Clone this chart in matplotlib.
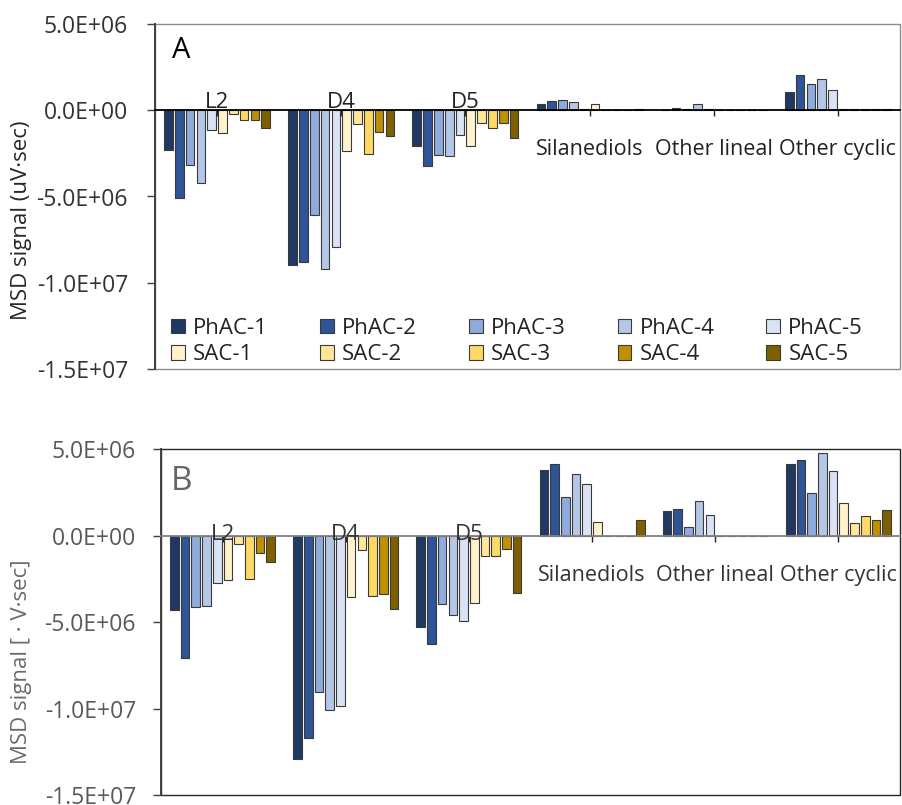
import matplotlib
matplotlib.use("Agg")
import matplotlib.pyplot as plt
from matplotlib import font_manager as fm
from matplotlib.patches import Rectangle
from matplotlib.ticker import FuncFormatter
import numpy as np

# ---- fonts -------------------------------------------------------------
available = {f.name for f in fm.fontManager.ttflist}
FONT = next((n for n in ["Liberation Sans Narrow", "Open Sans"] if n in available),
            "DejaVu Sans")
plt.rcParams["font.family"] = [FONT, "DejaVu Sans"]

# ---- data (signal, 1E6 uV*sec) ----------------------------------------
categories = ["L2", "D4", "D5", "Silanediols", "Other lineal", "Other cyclic"]
series = ["PhAC-1", "PhAC-2", "PhAC-3", "PhAC-4", "PhAC-5",
          "SAC-1", "SAC-2", "SAC-3", "SAC-4", "SAC-5"]
colors = ["#1f3864", "#2f5597", "#8faadc", "#b4c7e7", "#dae3f3",
          "#fff2cc", "#ffe699", "#ffd966", "#bf9000", "#7f6000"]

# Panel A
a_phac1 = [-2.33, -9.00, -2.05, 0.37, 0.03, 1.03]
a_phac2 = [-5.10, -8.80, -3.24, 0.52, 0.15, 2.03]
a_phac3 = [-3.20, -6.09, -2.62, 0.58, 0.10, 1.51]
a_phac4 = [-4.19, -9.19, -2.66, 0.45, 0.35, 1.82]
a_phac5 = [-1.16, -7.93, -1.41, 0.10, 0.07, 1.20]
a_sac1 = [-1.32, -2.38, -2.07, 0.35, 0.00, 0.05]
a_sac2 = [-0.19, -0.81, -0.72, 0.00, 0.00, 0.05]
a_sac3 = [-0.56, -2.54, -1.01, 0.00, 0.00, 0.08]
a_sac4 = [-0.54, -1.26, -0.76, 0.00, 0.00, 0.05]
a_sac5 = [-1.03, -1.47, -1.63, 0.05, 0.00, 0.06]

# Panel B
b_phac1 = [-4.28, -12.90, -5.30, 3.81, 1.44, 4.16]
b_phac2 = [-7.07, -11.70, -6.28, 4.16, 1.54, 4.37]
b_phac3 = [-4.14, -9.04, -3.95, 2.22, 0.50, 2.47]
b_phac4 = [-4.10, -10.10, -4.62, 3.58, 1.97, 4.76]
b_phac5 = [-2.74, -9.86, -4.97, 2.99, 1.19, 3.72]
b_sac1 = [-2.60, -3.56, -3.93, 0.77, 0.00, 1.89]
b_sac2 = [-0.48, -0.81, -1.18, 0.00, 0.00, 0.73]
b_sac3 = [-2.52, -3.47, -1.18, 0.00, 0.00, 1.14]
b_sac4 = [-1.00, -3.41, -0.77, 0.00, 0.00, 0.92]
b_sac5 = [-1.52, -4.26, -3.31, 0.87, 0.00, 1.48]

panel_a = [a_phac1, a_phac2, a_phac3, a_phac4, a_phac5,
           a_sac1, a_sac2, a_sac3, a_sac4, a_sac5]
panel_b = [b_phac1, b_phac2, b_phac3, b_phac4, b_phac5,
           b_sac1, b_sac2, b_sac3, b_sac4, b_sac5]

SCALE = 1e6
yticks = [-1.5e7, -1.0e7, -5.0e6, 0.0, 5.0e6]

# ---- figure ------------------------------------------------------------
W, H = 902, 805
fig = plt.figure(figsize=(W / 100, H / 100), dpi=100)


def fx(px):
    return px / W


def fy(py):
    return 1 - py / H


ax_a = fig.add_axes([fx(155), fy(369), fx(900) - fx(155), fy(24) - fy(369)])
ax_b = fig.add_axes([fx(161), fy(795), fx(900) - fx(161), fy(449) - fy(795)])

x = np.arange(len(categories))
pitch = 0.087
width = 0.070
offsets = (np.arange(len(series)) - (len(series) - 1) / 2) * pitch


def draw_panel(ax, values, tick_color, zero_color, frame_color, cat_color,
               label_pad, near_dy):
    handles = []
    for i, (name, col, vals) in enumerate(zip(series, colors, values)):
        h = ax.bar(x + offsets[i], np.array(vals) * SCALE, width=width,
                   color=col, edgecolor="#3a3a3a", linewidth=0.8,
                   label=name, zorder=2)
        handles.append(h)
    ax.set_xlim(-0.5, len(categories) - 0.5)
    ax.set_ylim(yticks[0], yticks[-1])
    ax.set_yticks(yticks)
    ax.yaxis.set_major_formatter(FuncFormatter(lambda v, p: f"{v:.1E}"))
    ax.tick_params(axis="y", direction="out", length=6, width=1.0,
                   color="#404040", labelsize=16.5, labelcolor=tick_color,
                   pad=label_pad)
    # horizontal axis sits on the zero line
    ax.spines["bottom"].set_position(("data", 0))
    ax.spines["bottom"].set_color(zero_color)
    ax.spines["bottom"].set_linewidth(1.3)
    ax.spines["bottom"].set_zorder(3)
    ax.spines["top"].set_visible(False)
    ax.spines["right"].set_visible(False)
    ax.spines["left"].set_color("#404040")
    ax.spines["left"].set_linewidth(1.4)
    ax.set_xticks(x)
    ax.tick_params(axis="x", direction="out", length=4.5, width=1.0,
                   color="#202020", labelbottom=False)
    ax.add_patch(Rectangle((0, 0), 1, 1, transform=ax.transAxes, fill=False,
                           edgecolor=frame_color, linewidth=1.0,
                           clip_on=False, zorder=1))
    for i, cat in enumerate(categories):
        if i < 3:
            ax.annotate(cat, xy=(x[i], 0), xytext=(0, near_dy),
                        textcoords="offset pixels", ha="center", va="baseline",
                        fontsize=16, color=cat_color, zorder=4)
        else:
            ax.annotate(cat, xy=(x[i], 0), xytext=(0, -45),
                        textcoords="offset pixels", ha="center", va="baseline",
                        fontsize=15.5, color=cat_color, zorder=4)
    return handles


hA = draw_panel(ax_a, panel_a, "#333333", "black", "#8c8c8c", "#222222",
                13.5, 2)
hB = draw_panel(ax_b, panel_b, "#595959", "#808080", "#262626", "#333333",
                12, -4)

# legend: PhAC series on the first row, SAC series on the second
order = []
for k in range(5):
    order += [hA[k], hA[k + 5]]
fig.legend(order, [h.get_label() for h in order], ncol=5,
           loc="upper left", bbox_to_anchor=(fx(171), fy(318)),
           bbox_transform=fig.transFigure, frameon=False, fontsize=16,
           borderpad=0, borderaxespad=0, handlelength=0.62,
           handleheight=0.62, handletextpad=0.37, columnspacing=2.34,
           labelspacing=0.24, labelcolor="#222222")

# panel letters
fig.text(fx(172), fy(58), "A", fontsize=21, color="black", va="baseline",
         ha="left")
fig.text(fx(171), fy(490), "B", fontsize=24, color="#666666", va="baseline",
         ha="left")

# axis titles
fig.text(fx(22), fy(220), "MSD signal (uV\u00b7sec)", rotation=90,
         ha="center", va="center", fontsize=16, color="#262626")
fig.text(fx(22), fy(662), "MSD signal [ \u00b7 V\u00b7sec]", rotation=90,
         ha="center", va="center", fontsize=16, color="#6a6a6a")

fig.savefig("out.png", dpi=100)
